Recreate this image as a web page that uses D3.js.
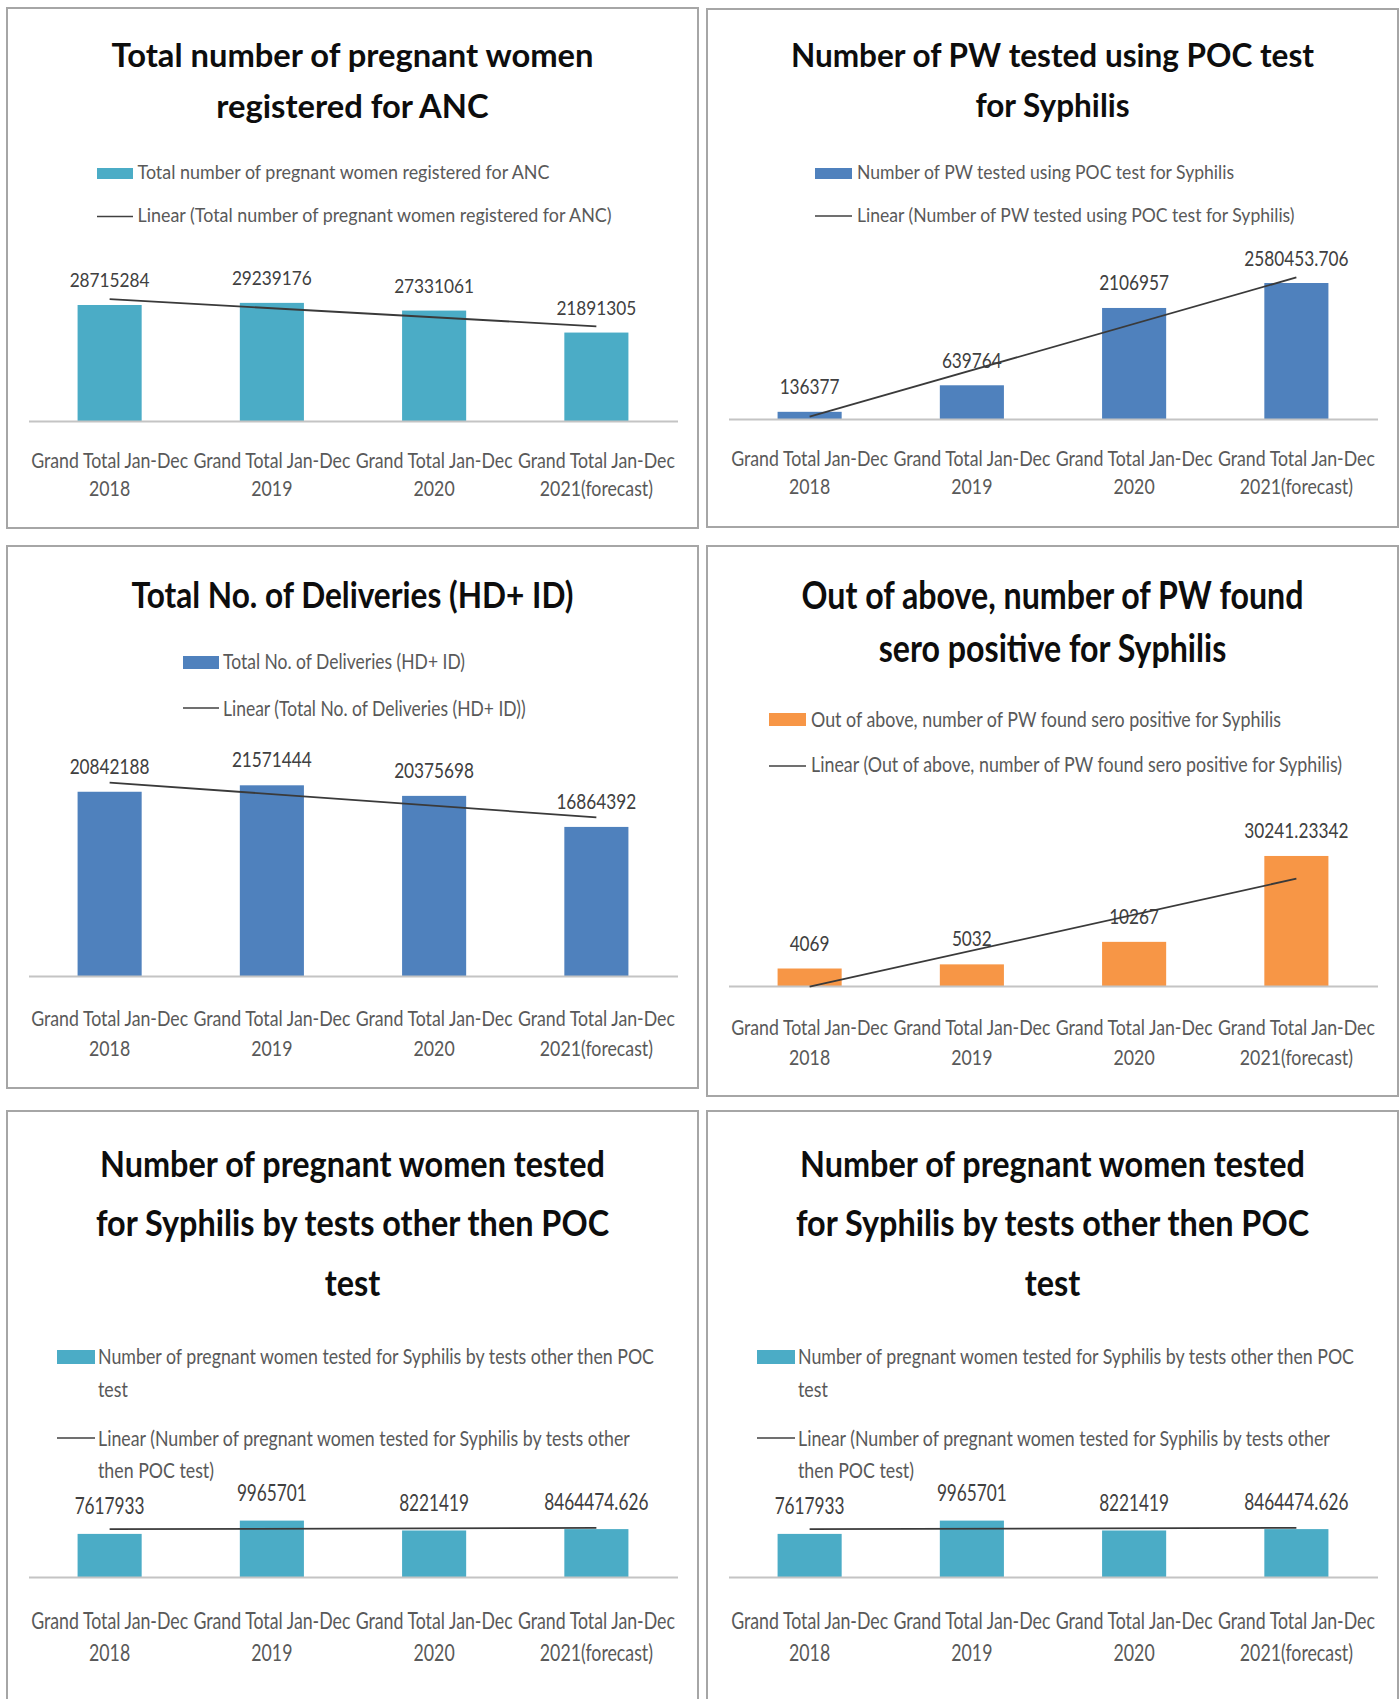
<!DOCTYPE html>
<html><head><meta charset="utf-8">
<script src="https://cdn.jsdelivr.net/npm/d3@7"></script>
<style>body{margin:0;background:#fff}svg{display:block}</style>
</head><body>
<svg id="chart" width="1400" height="1699"></svg>
<script>
// ---------------- DATA ----------------
const categories = ["2018", "2019", "2020", "2021(forecast)"];
const categoryLine1 = ["Grand Total Jan-Dec", "Grand Total Jan-Dec", "Grand Total Jan-Dec", "Grand Total Jan-Dec"];
const categoryLine2 = ["2018", "2019", "2020", "2021(forecast)"];

const ancValues = [28715284, 29239176, 27331061, 21891305];
const pocValues = [136377, 639764, 2106957, 2580453.706];
const deliveryValues = [20842188, 21571444, 20375698, 16864392];
const seroValues = [4069, 5032, 10267, 30241.23342];
const otherTestValues = [7617933, 9965701, 8221419, 8464474.626];

const ancTitle = ["Total number of pregnant women", "registered for ANC"];
const pocTitle = ["Number of PW tested using POC test", "for Syphilis"];
const deliveryTitle = ["Total No. of Deliveries (HD+ ID)"];
const seroTitle = ["Out of above, number of PW found", "sero positive for Syphilis"];
const otherTestTitle = ["Number of pregnant women tested", "for Syphilis by tests other then POC", "test"];

const ancLegend = ["Total number of pregnant women registered for ANC"];
const ancTrendLegend = ["Linear (Total number of pregnant women registered for ANC)"];
const pocLegend = ["Number of PW tested using POC test for Syphilis"];
const pocTrendLegend = ["Linear (Number of PW tested using POC test for Syphilis)"];
const deliveryLegend = ["Total No. of Deliveries (HD+ ID)"];
const deliveryTrendLegend = ["Linear (Total No. of Deliveries (HD+ ID))"];
const seroLegend = ["Out of above, number of PW found sero positive for Syphilis"];
const seroTrendLegend = ["Linear (Out of above, number of PW found sero positive for Syphilis)"];
const otherTestLegend = ["Number of pregnant women tested for Syphilis by tests other then POC", "test"];
const otherTestTrendLegend = ["Linear (Number of pregnant women tested for Syphilis by tests other", "then POC test)"];

const axisMax = [35000000, 3000000, 25000000, 35000, 12000000, 12000000];

// ---------------- LAYOUT ----------------
const FONT = "Lato, 'Open Sans', 'Liberation Sans', sans-serif";
const panels = [
  {values: ancValues, title: ancTitle, legBar: ancLegend, legLine: ancTrendLegend, color: "#4BACC6", yMax: axisMax[0],
   x: 7, y: 8, w: 691, h: 520, titleY: [67, 118], titleSize: 33, titleW: 482,
   sx: 97, sw: 36, rectY: 168, rectH: 11, barTextY: [179], lineY: 216.5, lineTextY: [222], textX: 137.5, legSize: 19.5, legW: 412,
   axisY: 421, plotH: 141.4, valSize: 20, valGap: 18, catSize: 20.5, catDy: [46.5, 74.5]},
  {values: pocValues, title: pocTitle, legBar: pocLegend, legLine: pocTrendLegend, color: "#4F81BD", yMax: axisMax[1],
   x: 707, y: 9, w: 691, h: 518, titleY: [67, 117], titleSize: 33, titleW: 523,
   sx: 815, sw: 37, rectY: 168, rectH: 11, barTextY: [179], lineY: 216, lineTextY: [222], textX: 857, legSize: 19.5, legW: 377,
   axisY: 419, plotH: 158.1, valSize: 21, valGap: 17.5, catSize: 20.5, catDy: [46.5, 74.5]},
  {values: deliveryValues, title: deliveryTitle, legBar: deliveryLegend, legLine: deliveryTrendLegend, color: "#4F81BD", yMax: axisMax[2],
   x: 7, y: 546, w: 691, h: 542, titleY: [608], titleSize: 37, titleW: 442,
   sx: 183, sw: 36, rectY: 656, rectH: 13, barTextY: [669], lineY: 708, lineTextY: [716], textX: 223, legSize: 21, legW: 242,
   axisY: 976, plotH: 221, valSize: 22, valGap: 18, catSize: 21, catDy: [50, 80]},
  {values: seroValues, title: seroTitle, legBar: seroLegend, legLine: seroTrendLegend, color: "#F79646", yMax: axisMax[3],
   x: 707, y: 546, w: 691, h: 550, titleY: [609, 662], titleSize: 37.5, titleW: 502,
   sx: 769, sw: 37, rectY: 713, rectH: 13, barTextY: [727], lineY: 766, lineTextY: [772], textX: 811, legSize: 20.5, legW: 470,
   axisY: 986, plotH: 150.5, valSize: 22, valGap: 18, catSize: 21, catDy: [49, 79]},
  {values: otherTestValues, title: otherTestTitle, legBar: otherTestLegend, legLine: otherTestTrendLegend, color: "#4BACC6", yMax: axisMax[4],
   x: 7, y: 1111, w: 691, h: 640, titleY: [1177, 1236, 1296], titleSize: 37, titleW: 505,
   sx: 57, sw: 38, rectY: 1350, rectH: 14, barTextY: [1364, 1397], lineY: 1438, lineTextY: [1446, 1478], textX: 98, legSize: 22, legW: 556,
   axisY: 1577, plotH: 67.9, valSize: 23.5, valGap: 19.5, catSize: 23, catDy: [52, 84]},
  {values: otherTestValues, title: otherTestTitle, legBar: otherTestLegend, legLine: otherTestTrendLegend, color: "#4BACC6", yMax: axisMax[5],
   x: 707, y: 1111, w: 691, h: 640, titleY: [1177, 1236, 1296], titleSize: 37, titleW: 505,
   sx: 757, sw: 38, rectY: 1350, rectH: 14, barTextY: [1364, 1397], lineY: 1438, lineTextY: [1446, 1478], textX: 798, legSize: 22, legW: 556,
   axisY: 1577, plotH: 67.9, valSize: 23.5, valGap: 19.5, catSize: 23, catDy: [52, 84]}
];

const svg = d3.select("#chart");

function measure(str, size, weight) {
  const t = svg.append("text").attr("font-family", FONT).attr("font-size", size).attr("font-weight", weight || "normal").text(str);
  const w = t.node().getComputedTextLength();
  t.remove();
  return w;
}
function squeeze(sel, k) {
  const nodes = sel.nodes();
  const lens = nodes.map(n => n.getComputedTextLength());
  nodes.forEach((n, i) => { n.setAttribute("textLength", (lens[i] * k).toFixed(2)); n.setAttribute("lengthAdjust", "spacingAndGlyphs"); });
}

function trend(values) {
  const xs = values.map((d, i) => i + 1);
  const mx = d3.mean(xs), my = d3.mean(values);
  const slope = d3.sum(xs, (x, i) => (x - mx) * (values[i] - my)) / d3.sum(xs, x => (x - mx) * (x - mx));
  const b = my - slope * mx;
  return x => b + slope * x;
}

panels.forEach(p => {
  const g = svg.append("g");
  g.append("rect").attr("x", p.x).attr("y", p.y).attr("width", p.w).attr("height", p.h)
    .attr("fill", "#fff").attr("stroke", "#a6a6a6").attr("stroke-width", 2);

  // title
  const cx = p.x + p.w / 2;
  const tg = g.append("g");
  p.title.forEach((line, i) => {
    tg.append("text").attr("x", cx).attr("y", p.titleY[i]).attr("text-anchor", "middle")
      .attr("font-family", FONT).attr("font-weight", "bold").attr("font-size", p.titleSize).attr("fill", "#0d0d0d").text(line);
  });
  squeeze(tg.selectAll("text"), p.titleW / measure(p.title[0], p.titleSize, "bold"));

  // legend
  const lg = g.append("g");
  lg.append("rect").attr("x", p.sx).attr("y", p.rectY).attr("width", p.sw).attr("height", p.rectH).attr("fill", p.color);
  lg.append("line").attr("x1", p.sx).attr("x2", p.sx + p.sw).attr("y1", p.lineY).attr("y2", p.lineY)
    .attr("stroke", "#404040").attr("stroke-width", 1.6);
  p.legBar.forEach((line, i) => lg.append("text").attr("x", p.textX).attr("y", p.barTextY[i]).text(line));
  p.legLine.forEach((line, i) => lg.append("text").attr("x", p.textX).attr("y", p.lineTextY[i]).text(line));
  lg.selectAll("text").attr("font-family", FONT).attr("font-size", p.legSize).attr("fill", "#595959");
  squeeze(lg.selectAll("text"), p.legW / measure(p.legBar[0], p.legSize));

  // scales
  const x = d3.scaleBand().domain(categories).range([p.x + 21.5, p.x + 670.5]).paddingInner(0.605).paddingOuter(0.3025);
  const y = d3.scaleLinear().domain([0, p.yMax]).range([p.axisY, p.axisY - p.plotH]);
  const data = categories.map((c, i) => ({c, v: p.values[i], i}));

  // bars
  g.append("g").selectAll("rect").data(data).join("rect")
    .attr("x", d => x(d.c)).attr("width", x.bandwidth())
    .attr("y", d => y(d.v)).attr("height", d => y(0) - y(d.v)).attr("fill", p.color);

  // axis
  const ax = g.append("g").attr("transform", `translate(0,${p.axisY})`)
    .call(d3.axisBottom(x).tickSize(0).tickSizeOuter(0).tickFormat(() => ""));
  ax.select(".domain").attr("stroke", "#c4c4c4").attr("stroke-width", 2);
  ax.selectAll(".tick").remove();

  // category labels
  const cg = g.append("g");
  data.forEach(d => {
    const xc = x(d.c) + x.bandwidth() / 2;
    cg.append("text").attr("x", xc).attr("y", p.axisY + p.catDy[0]).text(categoryLine1[d.i]);
    cg.append("text").attr("x", xc).attr("y", p.axisY + p.catDy[1]).text(categoryLine2[d.i]);
  });
  cg.selectAll("text").attr("text-anchor", "middle").attr("font-family", FONT).attr("font-size", p.catSize).attr("fill", "#595959");
  squeeze(cg.selectAll("text"), 157 / measure(categoryLine1[0], p.catSize));

  // value labels
  const vg = g.append("g");
  vg.selectAll("text").data(data).join("text")
    .attr("x", d => x(d.c) + x.bandwidth() / 2).attr("y", d => y(d.v) - p.valGap)
    .attr("text-anchor", "middle").attr("font-family", FONT).attr("font-size", p.valSize).attr("fill", "#404040")
    .text(d => String(d.v));
  squeeze(vg.selectAll("text"), 80 / measure("28715284", p.valSize));

  // trendline (linear fit)
  const f = trend(p.values);
  const first = data[0], last = data[data.length - 1];
  g.append("line")
    .attr("x1", x(first.c) + x.bandwidth() / 2).attr("y1", y(f(1)))
    .attr("x2", x(last.c) + x.bandwidth() / 2).attr("y2", y(f(data.length)))
    .attr("stroke", "#3a3a3a").attr("stroke-width", 1.8);
});
</script>
</body></html>
